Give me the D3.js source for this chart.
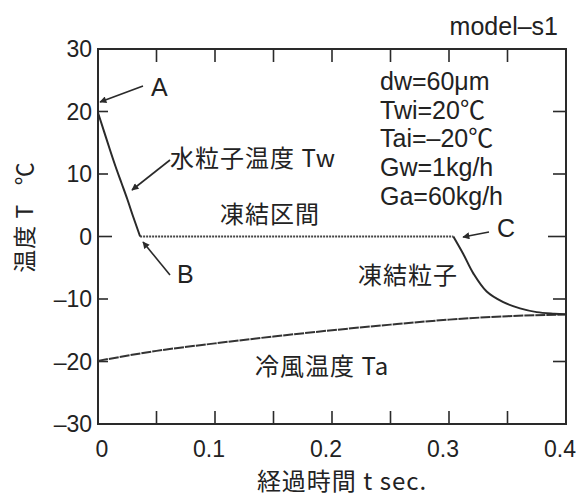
<!DOCTYPE html>
<html>
<head>
<meta charset="utf-8">
<script src="https://cdn.jsdelivr.net/npm/d3@7"></script>
<style>
  html, body { margin: 0; padding: 0; background: #fff; }
  svg { display: block; }
  text { font-family: "Liberation Sans", Arial, "Noto Sans CJK JP", sans-serif; fill: #222; }
  .jp { font-family: "Noto Sans CJK JP", sans-serif; letter-spacing: 1px; }
</style>
</head>
<body>
<svg id="chart" width="576" height="497"></svg>
<script>
// ---- data ----
const xTicks = [0, 0.1, 0.2, 0.3, 0.4];
const xMinorTicks = [0.05, 0.1, 0.15, 0.2, 0.25, 0.3, 0.35];
const yTicks = [-30, -20, -10, 0, 10, 20, 30];

const twTime = [0, 0.005, 0.010, 0.015, 0.020, 0.025, 0.030, 0.036];
const twTemp = [19.8, 16.9, 14.0, 11.2, 8.6, 6.0, 3.2, 0];

const freezeTime = [0.036, 0.3037];
const freezeTemp = [0, 0];

const frozenTime = [0.3037, 0.3122, 0.3208, 0.3322, 0.3464, 0.3607, 0.375, 0.39, 0.4];
const frozenTemp = [0, -2.8, -5.9, -8.8, -10.5, -11.5, -12.1, -12.35, -12.45];

const taTime = [0, 0.05, 0.1, 0.15, 0.2, 0.25, 0.3, 0.35, 0.4];
const taTemp = [-19.9, -18.3, -17.1, -16.0, -15.0, -14.1, -13.3, -12.75, -12.5];

const params = ["dw=60\u03bcm", "Twi=20\u2103", "Tai=\u201320\u2103", "Gw=1kg/h", "Ga=60kg/h"];

// ---- layout ----
const svg = d3.select("#chart");
const L = 98, R = 566, T = 49, B = 424;
const x = d3.scaleLinear().domain([0, 0.4]).range([L, R]);
const y = d3.scaleLinear().domain([-30, 30]).range([B, T]);

const ink = "#2a2a2a";

// arrow marker
svg.append("defs").append("marker")
  .attr("id", "ah").attr("viewBox", "0 0 10 10")
  .attr("refX", 9).attr("refY", 5)
  .attr("markerWidth", 9).attr("markerHeight", 7)
  .attr("markerUnits", "userSpaceOnUse")
  .attr("orient", "auto")
  .append("path").attr("d", "M0,0 L10,5 L0,10 Z").attr("fill", ink);

// ticks (inward)
const g = svg.append("g");
xMinorTicks.forEach(v => {
  g.append("line").attr("x1", x(v)).attr("x2", x(v)).attr("y1", B).attr("y2", B - 13)
    .attr("stroke", ink).attr("stroke-width", 1.6);
  g.append("line").attr("x1", x(v)).attr("x2", x(v)).attr("y1", T).attr("y2", T + 13)
    .attr("stroke", ink).attr("stroke-width", 1.6);
});
yTicks.filter(v => v > -30 && v < 30).forEach(v => {
  g.append("line").attr("x1", L).attr("x2", L + (v === 0 ? 14 : 10)).attr("y1", y(v)).attr("y2", y(v))
    .attr("stroke", ink).attr("stroke-width", 1.6);
  g.append("line").attr("x1", R).attr("x2", R - (v === 0 ? 18 : 13)).attr("y1", y(v)).attr("y2", y(v))
    .attr("stroke", ink).attr("stroke-width", 1.6);
});

// frame
svg.append("rect").attr("x", L).attr("y", T).attr("width", R - L).attr("height", B - T)
  .attr("fill", "none").attr("stroke", ink).attr("stroke-width", 2);

// tick labels
svg.append("g").selectAll("text").data(yTicks).join("text")
  .attr("x", L - 6).attr("y", d => y(d)).attr("dy", "0.36em")
  .attr("text-anchor", "end").attr("font-size", 23)
  .text(d => d < 0 ? "\u2013" + Math.abs(d) : d);
svg.append("g").selectAll("text").data(xTicks).join("text")
  .attr("x", d => x(d) + (d === 0 ? 4 : -6)).attr("y", 457)
  .attr("text-anchor", "middle").attr("font-size", 23)
  .text(d => d === 0 ? "0" : d3.format(".1f")(d));

// lines
const line = d3.line().x(d => x(d[0])).y(d => y(d[1])).curve(d3.curveMonotoneX);
const smooth = d3.line().x(d => x(d[0])).y(d => y(d[1])).curve(d3.curveCatmullRom.alpha(0.5));
const zip = (a, b) => a.map((v, i) => [v, b[i]]);

svg.append("path").datum(zip(taTime, taTemp)).attr("d", line)
  .attr("fill", "none").attr("stroke", "#333").attr("stroke-width", 2).attr("stroke-dasharray", "10,1");
svg.append("path").datum(zip(freezeTime, freezeTemp)).attr("d", line)
  .attr("fill", "none").attr("stroke", "#444").attr("stroke-width", 2).attr("stroke-dasharray", "2,1");
svg.append("path").datum(zip(twTime, twTemp)).attr("d", line)
  .attr("fill", "none").attr("stroke", ink).attr("stroke-width", 2);
svg.append("path").datum(zip(frozenTime, frozenTemp)).attr("d", smooth)
  .attr("fill", "none").attr("stroke", ink).attr("stroke-width", 2);

// annotation arrows
const arrows = [
  [143, 86, 100, 102],
  [170, 160, 132, 190],
  [170, 275, 143, 242],
  [489, 232, 463, 237]
];
arrows.forEach(a => {
  svg.append("line").attr("x1", a[0]).attr("y1", a[1]).attr("x2", a[2]).attr("y2", a[3])
    .attr("stroke", ink).attr("stroke-width", 1.6).attr("marker-end", "url(#ah)");
});

// letters
const lbl = (t, px, py, opts = {}) => svg.append("text").attr("x", px).attr("y", py)
  .attr("font-size", opts.size || 24).attr("text-anchor", opts.anchor || "start")
  .attr("class", opts.cls || null).text(t);
lbl("A", 151, 96, {size: 25});
lbl("B", 177, 283, {size: 25});
lbl("C", 497, 237, {size: 25});

lbl("\u6c34\u7c92\u5b50\u6e29\u5ea6 Tw", 170, 167, {cls: "jp"});
lbl("\u51cd\u7d50\u533a\u9593", 270, 223, {cls: "jp", anchor: "middle"});
lbl("\u51cd\u7d50\u7c92\u5b50", 408, 284, {cls: "jp", anchor: "middle"});
lbl("\u51b7\u98a8\u6e29\u5ea6 Ta", 255, 375, {cls: "jp"});

params.forEach((p, i) => lbl(p, 380, 90 + i * 28.7, {size: 25}));
lbl("model\u2013s1", 558, 35, {anchor: "end", size: 25});

// axis titles
svg.append("text").attr("class", "jp").attr("font-size", 23).attr("text-anchor", "middle")
  .attr("transform", "translate(33,217) rotate(-90)").text("\u6e29\u5ea6 T\u00a0\u00a0\u00a0\u2103");
svg.append("text").attr("class", "jp").attr("font-size", 24).attr("text-anchor", "middle")
  .attr("x", 342).attr("y", 490).text("\u7d4c\u904e\u6642\u9593 t sec.");
</script>
</body>
</html>
